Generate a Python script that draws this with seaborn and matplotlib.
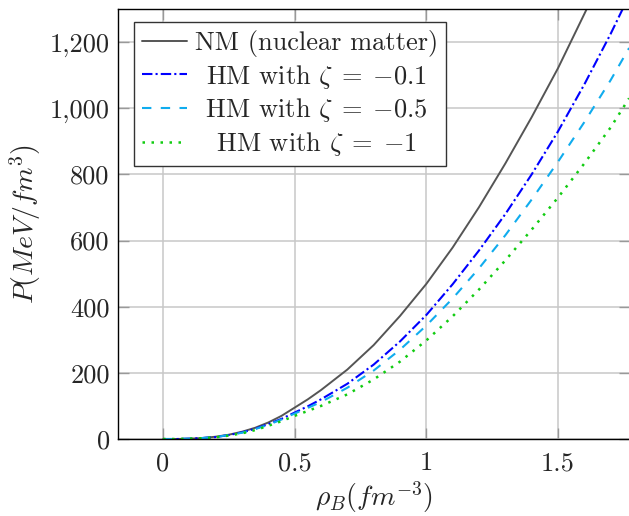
import numpy as np
import pandas as pd
import seaborn as sns
import matplotlib.pyplot as plt
from matplotlib.ticker import FuncFormatter

# densidade barionica (fm^-3)
rho = [0.0, 0.05, 0.1, 0.15, 0.2, 0.25, 0.3, 0.35, 0.4, 0.45, 0.5, 0.55,
       0.6, 0.7, 0.8, 0.9, 1.0, 1.1, 1.2, 1.3, 1.4, 1.5, 1.6, 1.7, 1.77]

# pressao (MeV/fm^3)
p_nm = [0, 0, 1, 3, 7, 13, 22, 34, 50, 70, 95, 120,
        148, 210, 284, 372, 469, 579, 701, 833, 973, 1121, 1285, 1450, 1570]
p_hm01 = [0, 0, 1, 3, 6, 12, 20, 31, 45, 61, 80, 99,
          120, 167, 225, 295, 375, 468, 570, 680, 800, 930, 1072, 1225, 1340]
p_hm05 = [0, 0, 1, 3, 6, 12, 19, 30, 43, 59, 77, 94,
          112, 155, 207, 270, 343, 425, 516, 616, 724, 838, 958, 1085, 1182]
p_hm1 = [0, 0, 1, 2.5, 5, 10.5, 17, 27, 40, 54, 70, 85,
         100, 135, 180, 234, 298, 371, 452, 540, 633, 730, 833, 942, 1030]

labels = ['NM (nuclear matter)', r'HM with $\zeta\;=\;{-}0.1$',
          r'HM with $\zeta\;=\;{-}0.5$', r'HM with $\zeta\;=\;{-}1$']

sns.set_style('whitegrid')
plt.rcParams['font.family'] = 'serif'
plt.rcParams['font.serif'] = ['cmr10', 'DejaVu Serif']
plt.rcParams['mathtext.fontset'] = 'cm'
plt.rcParams['axes.formatter.use_mathtext'] = True

fig = plt.figure(figsize=(6.29, 5.16), dpi=100)
ax = fig.add_axes([0.1876, 0.1492, 0.8134, 0.8334])

curvas = [
    (p_nm, '#555555', '-', 1.4),
    (p_hm01, '#0000ff', (0, (5, 1.5, 1, 1.5)), 1.5),
    (p_hm05, '#10acee', (0, (4.5, 4.5)), 1.5),
    (p_hm1, '#11cc11', (0, (1, 2.6)), 1.8),
]
for (p, cor, ls, lw), lab in zip(curvas, labels):
    df = pd.DataFrame({'rho': rho, 'P': p})
    sns.lineplot(data=df, x='rho', y='P', ax=ax, color=cor, linestyle=ls,
                 linewidth=lw, label=lab, sort=False)

ax.set_xlim(-0.171, 1.772)
ax.set_ylim(0, 1300)
ax.set_xticks([0, 0.5, 1, 1.5])
ax.set_xticklabels(['0', '0.5', '1', '1.5'])
ax.set_yticks([0, 200, 400, 600, 800, 1000, 1200])
ax.yaxis.set_major_formatter(FuncFormatter(lambda v, pos: f'{v:,.0f}'))
ax.tick_params(axis='both', labelsize=19, direction='in', length=8,
               color='#999999', width=1, left=True, bottom=True,
               top=True, right=True)
ax.tick_params(axis='x', pad=9)
ax.tick_params(axis='y', pad=6)
ax.grid(True, color='#c8c8c8', linewidth=1.1)

for s in ax.spines.values():
    s.set_color('black')
    s.set_linewidth(1.0)

ax.set_xlabel(r'$\rho_B(fm^{-3})$', fontsize=20, labelpad=3)
ax.set_ylabel(r'$P(MeV/fm^3)$', fontsize=20, labelpad=5)

fs = 19
leg = ax.legend(loc='upper left', bbox_to_anchor=(0.0313, 0.9698), fontsize=fs,
                frameon=True, fancybox=False, framealpha=1, edgecolor='#333333',
                handlelength=1.7, borderpad=0.3, labelspacing=0.22,
                handletextpad=0.3, borderaxespad=0)
leg.get_frame().set_linewidth(1.0)

# centralizar os textos da legenda como no pgfplots
fig.canvas.draw()
r = fig.canvas.get_renderer()
textos = leg.get_texts()
larg = [t.get_window_extent(r).width for t in textos]
wmax = max(larg)
em = fs * 100 / 72 * 0.88
for t, w, lab in zip(textos, larg, labels):
    if wmax - w > 1:
        t.set_text(r'$\hspace{%.3f}$' % ((wmax - w) / 2 / em) + lab)

fig.savefig('out.png', dpi=100)
